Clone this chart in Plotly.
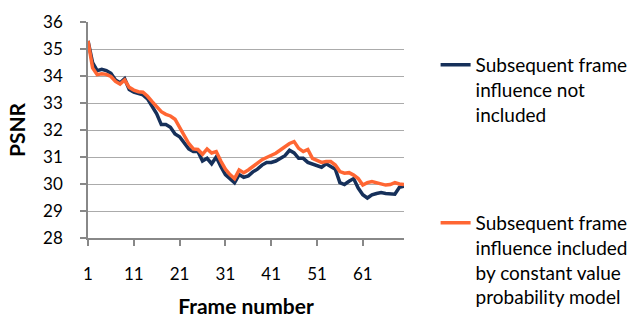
import plotly.graph_objects as go

frames = list(range(1, 71))

not_included = [
    35.3, 34.5, 34.2, 34.25, 34.2, 34.1, 33.85, 33.75, 33.9, 33.5,
    33.4, 33.35, 33.3, 33.15, 32.85, 32.6, 32.2, 32.2, 32.1, 31.85,
    31.75, 31.5, 31.3, 31.2, 31.2, 30.85, 30.95, 30.75, 31.0, 30.65,
    30.35, 30.2, 30.05, 30.35, 30.25, 30.3, 30.45, 30.55, 30.7, 30.8,
    30.8, 30.85, 30.95, 31.05, 31.25, 31.15, 30.95, 30.95, 30.8, 30.75,
    30.7, 30.62, 30.75, 30.65, 30.55, 30.05, 29.98, 30.1, 30.2, 29.85,
    29.6, 29.48, 29.6, 29.65, 29.68, 29.65, 29.62, 29.62, 29.88, 29.92,
]

included = [
    35.3, 34.3, 34.05, 34.08, 34.06, 33.98, 33.8, 33.7, 33.85, 33.58,
    33.48, 33.42, 33.4, 33.25, 33.05, 32.86, 32.68, 32.58, 32.52, 32.4,
    32.08, 31.8, 31.5, 31.3, 31.28, 31.1, 31.3, 31.15, 31.2, 30.85,
    30.55, 30.35, 30.2, 30.52, 30.42, 30.52, 30.64, 30.76, 30.9, 30.98,
    31.05, 31.14, 31.26, 31.38, 31.5, 31.57, 31.32, 31.2, 31.28, 30.95,
    30.89, 30.8, 30.83, 30.83, 30.7, 30.46, 30.4, 30.42, 30.33, 30.2,
    29.96, 30.05, 30.09, 30.05, 30.0, 29.96, 29.98, 30.05, 30.0, 29.98,
]

x_ticks = [1, 11, 21, 31, 41, 51, 61]
y_ticks = [28, 29, 30, 31, 32, 33, 34, 35, 36]

name1 = "Subsequent frame<br>influence not<br>included"
name2 = "Subsequent frame<br>influence included<br>by constant value<br>probability model"

navy = "#16305A"
orange = "#FF6633"
font_family = "Lato, 'Open Sans', sans-serif"

fig = go.Figure()
fig.add_trace(go.Scatter(x=frames, y=not_included, mode="lines", name=name1,
                         line=dict(color=navy, width=3.5), legend="legend"))
fig.add_trace(go.Scatter(x=frames, y=included, mode="lines", name=name2,
                         line=dict(color=orange, width=3.5), legend="legend2"))

legend_common = dict(
    font=dict(family=font_family, size=19, color="#000000"),
    bgcolor="rgba(0,0,0,0)", borderwidth=0, valign="top",
    xanchor="left", yanchor="top", itemwidth=30,
)

fig.update_layout(
    width=635, height=322,
    margin=dict(l=88, r=231, t=22, b=84, autoexpand=False),
    paper_bgcolor="white", plot_bgcolor="white",
    font=dict(family=font_family, size=17, color="#000000"),
    showlegend=True,
    legend=dict(x=1.10, y=1.0 - (46 - 22) / 216, **legend_common),
    legend2=dict(x=1.10, y=1.0 - (204 - 22) / 216, **legend_common),
    xaxis=dict(
        range=[1, 70], tickvals=x_ticks, ticktext=[str(t) for t in x_ticks],
        showgrid=False, showline=True, linecolor="#888888", linewidth=1.5,
        ticks="outside", ticklen=6, tickcolor="#888888", tickwidth=1.5,
        tickfont=dict(size=17), ticklabelstandoff=14,
        title=dict(text="<b>Frame number</b>", font=dict(size=21), standoff=16),
        zeroline=False, automargin=False,
    ),
    yaxis=dict(
        range=[28, 36], tickvals=y_ticks, ticktext=[str(t) for t in y_ticks],
        showgrid=True, gridcolor="#ABABAB", gridwidth=1.2,
        showline=True, linecolor="#888888", linewidth=1.5,
        ticks="outside", ticklen=6, tickcolor="#888888", tickwidth=1.5,
        tickfont=dict(size=17), ticklabelstandoff=14,
        title=dict(text="<b>PSNR</b>", font=dict(size=21), standoff=12),
        zeroline=False, automargin=False,
    ),
)

fig.write_html("out.html")
